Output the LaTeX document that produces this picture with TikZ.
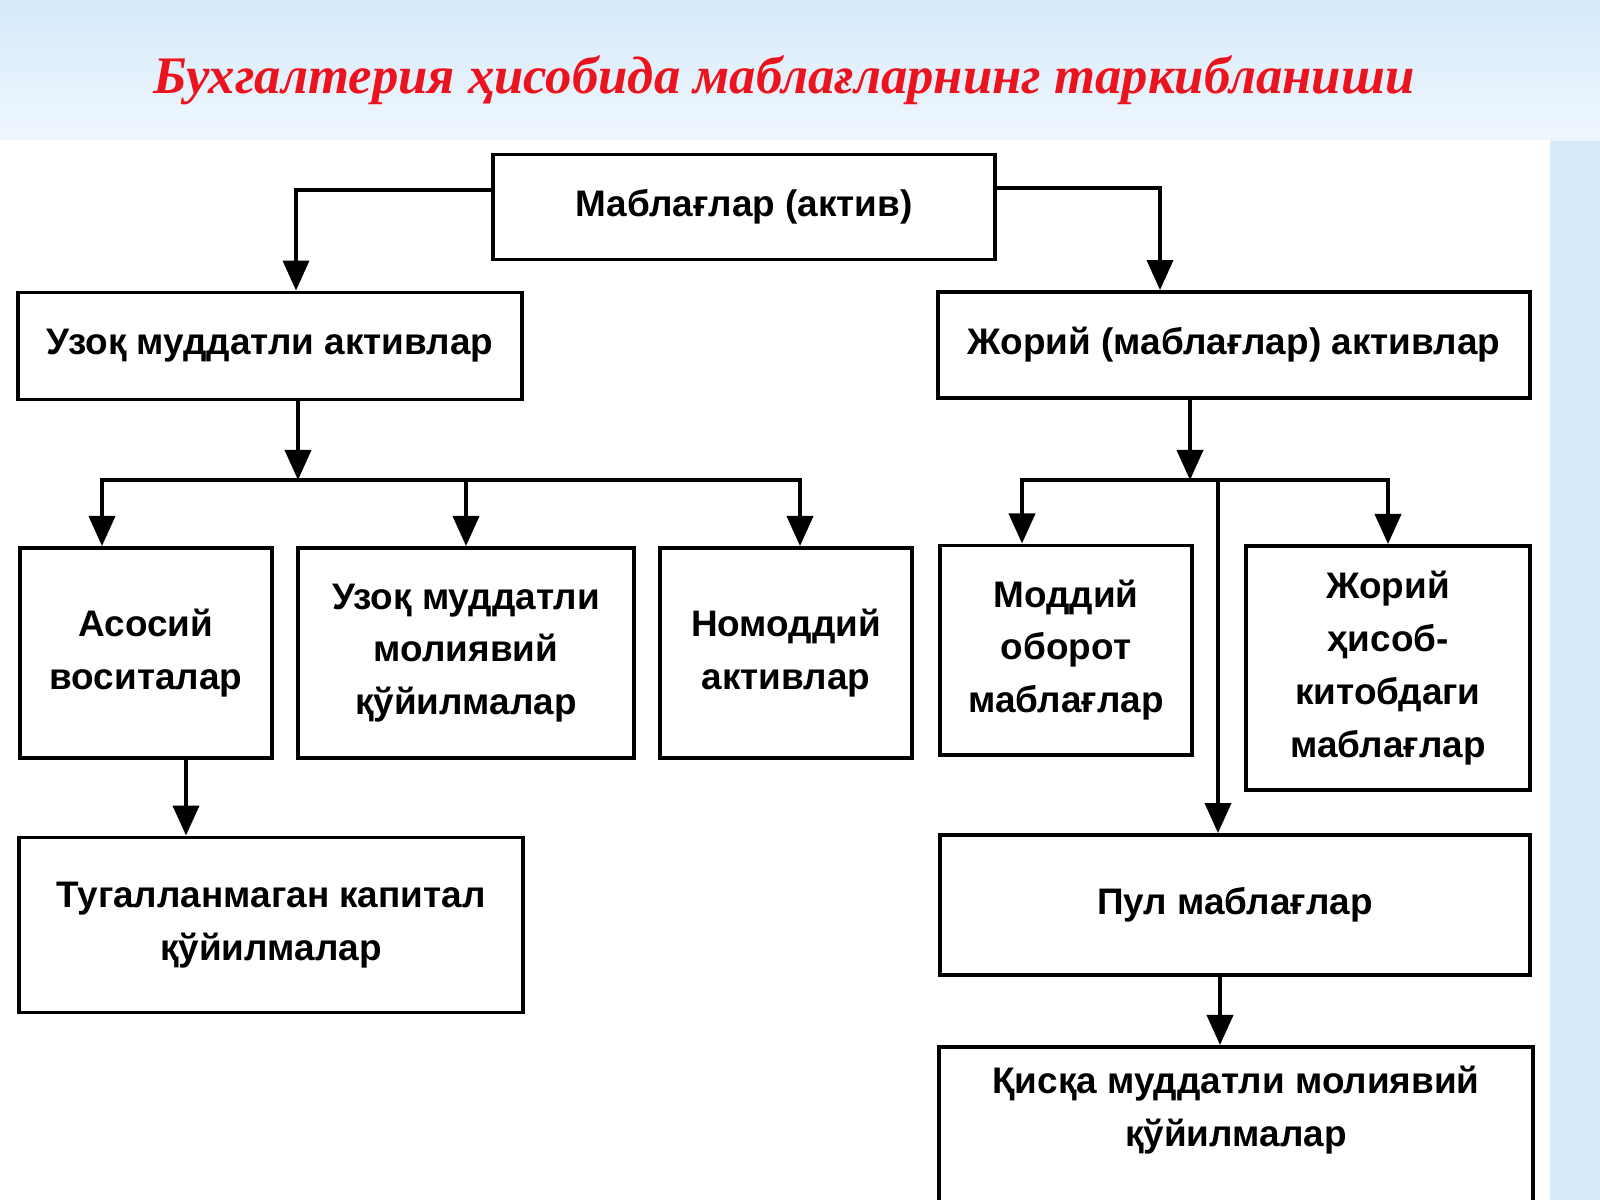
\documentclass[tikz,border=0pt]{standalone}
\usepackage{fontspec}
\setmainfont{Liberation Sans}
\newfontfamily\titlefont{Liberation Serif}
\usetikzlibrary{arrows.meta}
\definecolor{bgblue}{RGB}{214,234,250}
\definecolor{titlered}{RGB}{235,20,30}
\tikzstyle{box}=[draw, line width=1.1pt, align=center, font=\bfseries\fontsize{10.5}{15}\selectfont, inner sep=0pt]
\tikzstyle{link}=[line width=1.1pt, -{Triangle[length=3mm,width=2.6mm]}]

\begin{document}
\begin{tikzpicture}[x=0.01cm, y=-0.01cm]
    \clip (0,0) rectangle (1600,1200);
    \fill[bgblue] (0,0) rectangle (1600,1200);
    \shade[top color=bgblue, bottom color=bgblue!40] (0,0) rectangle (1600,140);
    \fill[white] (0,140) rectangle (1550,1200);
    \node[text=titlered, font=\titlefont\bfseries\itshape\fontsize{15}{18}\selectfont] (title) at (784,80) {Бухгалтерия ҳисобида маблағларнинг таркибланиши};
    % boxes
    \node[box, minimum width=50.2mm, minimum height=10.5mm] (root) at (744,207) {Маблағлар (актив)};
    \node[box, minimum width=50.3mm, minimum height=10.7mm] (long) at (270,346) {Узоқ муддатли активлар};
    \node[box, minimum width=59.2mm, minimum height=10.6mm] (cur) at (1234,345) {Жорий (маблағлар) активлар};
    \node[box, minimum width=25.2mm, minimum height=21mm] (fixed) at (146,653) {Асосий\\воситалар};
    \node[box, minimum width=33.5mm, minimum height=21mm] (inv) at (466,653) {Узоқ муддатли\\молиявий\\қўйилмалар};
    \node[box, minimum width=25.2mm, minimum height=21mm] (intang) at (786,653) {Номоддий\\активлар};
    \node[box, minimum width=25.2mm, minimum height=20.9mm] (mat) at (1066,650) {Моддий\\оборот\\маблағлар};
    \node[box, minimum width=28.4mm, minimum height=24.4mm] (acc) at (1388,668) {Жорий\\ҳисоб-\\китобдаги\\маблағлар};
    \node[box, minimum width=50.3mm, minimum height=17.5mm] (unfin) at (271,925) {Тугалланмаган капитал\\қўйилмалар};
    \node[box, minimum width=59mm, minimum height=14mm] (cash) at (1235,905) {Пул маблағлар};
    \node[box, minimum width=59.3mm, minimum height=17mm, anchor=north] (short) at (1236,1045) {};
    \node[font=\bfseries\fontsize{10.5}{15}\selectfont, align=center] (shorttxt) at (1236,1110) {Қисқа муддатли молиявий\\қўйилмалар};
    % helper points
    \coordinate (lbar) at (298,480);
    \coordinate (rbar) at (1190,480);
    % connectors
    \draw[link] (root.west |- 0,190) -| (long.north -| 296,0);
    \draw[link] (root.east |- 0,188) -| (cur.north -| 1160,0);
    \draw[link] (long.south -| lbar) -- (lbar);
    \draw[link] (lbar) -| (fixed.north -| 102,0);
    \draw[link] (lbar) -| (intang.north -| 800,0);
    \draw[link] (inv.north |- lbar) -- (inv.north);
    \draw[link] (cur.south -| rbar) -- (rbar);
    \draw[link] (rbar) -| (mat.north -| 1022,0);
    \draw[link] (rbar) -| (acc.north);
    \draw[link] (rbar -| 1218,0) -- (cash.north -| 1218,0);
    \draw[link] (fixed.south -| 186,0) -- (unfin.north -| 186,0);
    \draw[link] (cash.south -| 1220,0) -- (short.north -| 1220,0);
\end{tikzpicture}
\end{document}
